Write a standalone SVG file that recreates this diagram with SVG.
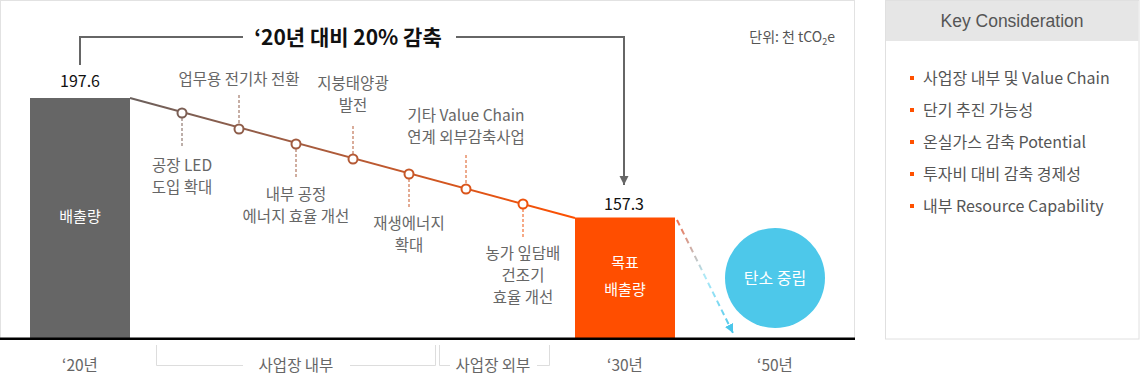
<svg xmlns="http://www.w3.org/2000/svg" width="1140" height="374" viewBox="0 0 1140 374">
<defs>
<style>
text{font-family:"Noto Sans CJK KR","Noto Sans",sans-serif;}
.lbl{font-size:15.5px;fill:#666;text-anchor:middle;}
.num{font-size:16px;fill:#111;text-anchor:middle;}
.axis{font-size:15.5px;fill:#666;text-anchor:middle;}
.wt{font-size:15px;fill:#fff;text-anchor:middle;}
.li{font-size:16px;fill:#555;}
.dash{fill:none;stroke:url(#lg);stroke-width:1;stroke-dasharray:3 2;}
.pt{fill:#fff;stroke:url(#lg);stroke-width:2;}
.br{fill:none;stroke:#ddd;stroke-width:1;}
.bul{fill:#ff5000;}
</style>
<linearGradient id="lg" gradientUnits="userSpaceOnUse" x1="130" y1="0" x2="575" y2="0">
<stop offset="0" stop-color="#6a605d"/>
<stop offset="0.5" stop-color="#b45a36"/>
<stop offset="1" stop-color="#ff5000"/>
</linearGradient>
<linearGradient id="ag" gradientUnits="userSpaceOnUse" x1="677" y1="220" x2="733" y2="333">
<stop offset="0" stop-color="#f07050"/>
<stop offset="0.5" stop-color="#aeeaf8"/>
<stop offset="1" stop-color="#4ac6ea"/>
</linearGradient>
<marker id="ahg" markerWidth="10" markerHeight="10" refX="9" refY="5" orient="auto" markerUnits="userSpaceOnUse">
<path d="M0,0.5 L9,5 L0,9.5 Z" fill="#666"/>
</marker>
<marker id="ahc" markerWidth="10" markerHeight="10" refX="9" refY="5" orient="auto" markerUnits="userSpaceOnUse">
<path d="M0,0.5 L9,5 L0,9.5 Z" fill="#4ac6ea"/>
</marker>
</defs>
<rect width="1140" height="374" fill="#fff"/>
<!-- main frame -->
<rect x="0.5" y="0.5" width="854" height="338" fill="none" stroke="#e2e2e2"/>

<g id="keypanel">
<rect x="885.5" y="0.5" width="253.5" height="338.5" fill="#fff" stroke="#e0e0e0"/>
<rect x="886" y="1" width="252.5" height="40" fill="#e6e6e6"/>
<text x="1012" y="27" style="font-family:'Liberation Sans',Arial,sans-serif;font-size:17.5px;fill:#555;text-anchor:middle">Key Consideration</text>
<rect class="bul" x="910" y="76" width="4" height="4"/>
<text class="li" x="923" y="84">사업장 내부 및 Value Chain</text>
<rect class="bul" x="910" y="108" width="4" height="4"/>
<text class="li" x="923" y="116">단기 추진 가능성</text>
<rect class="bul" x="910" y="140" width="4" height="4"/>
<text class="li" x="923" y="148">온실가스 감축 Potential</text>
<rect class="bul" x="910" y="172" width="4" height="4"/>
<text class="li" x="923" y="180">투자비 대비 감축 경제성</text>
<rect class="bul" x="910" y="204" width="4" height="4"/>
<text class="li" x="923" y="212">내부 Resource Capability</text>
</g>

<g id="unit">
<text x="835" y="42" style="font-size:14px;fill:#555;text-anchor:end">단위: 천 tCO<tspan style="font-size:9px" dy="3">2</tspan><tspan dy="-3">e</tspan></text>
</g>

<g id="bar2020">
<rect x="30" y="98" width="100" height="240" fill="#666"/>
<text class="wt" x="80" y="222">배출량</text>
<text class="num" x="80" y="87">197.6</text>
</g>

<g id="bar2030">
<rect x="575" y="217.5" width="100" height="120.5" fill="#ff4e00"/>
<text class="wt" x="625" y="268">목표</text>
<text class="wt" x="625" y="295">배출량</text>
<text class="num" x="624" y="210">157.3</text>
</g>

<g id="neutral">
<circle cx="775" cy="278" r="50" fill="#4dc8ea"/>
<text class="wt" x="775" y="284" style="font-size:16px">탄소 중립</text>
</g>

<g id="title">
<text x="348" y="45" style="font-size:21px;font-weight:bold;fill:#111;text-anchor:middle">‘20년 대비 20% 감축</text>
</g>

<g id="connectors">
<polyline points="80,65 80,37 243,37" fill="none" stroke="#666" stroke-width="2"/>
<polyline points="456,37 624,37 624,185" fill="none" stroke="#666" stroke-width="2" marker-end="url(#ahg)"/>
<line x1="130" y1="98" x2="575" y2="218" stroke="url(#lg)" stroke-width="2"/>
<line x1="677" y1="220" x2="733" y2="333" stroke="url(#ag)" stroke-width="2" stroke-dasharray="6 4" marker-end="url(#ahc)"/>
<line class="dash" x1="182" y1="118" x2="182" y2="146"/>
<line class="dash" x1="239" y1="95" x2="239" y2="124"/>
<line class="dash" x1="296" y1="149" x2="296" y2="177"/>
<line class="dash" x1="353" y1="126" x2="353" y2="154"/>
<line class="dash" x1="409" y1="179" x2="409" y2="207"/>
<line class="dash" x1="466" y1="155" x2="466" y2="184"/>
<line class="dash" x1="523" y1="209" x2="523" y2="237"/>
</g>

<g id="points">
<circle class="pt" cx="182" cy="113" r="4.5"/>
<circle class="pt" cx="239" cy="129" r="4.5"/>
<circle class="pt" cx="296" cy="144" r="4.5"/>
<circle class="pt" cx="353" cy="159" r="4.5"/>
<circle class="pt" cx="409" cy="174" r="4.5"/>
<circle class="pt" cx="466" cy="189" r="4.5"/>
<circle class="pt" cx="523" cy="204" r="4.5"/>
</g>

<g id="labels">
<text class="lbl" x="182" y="171">공장 LED</text>
<text class="lbl" x="182" y="193">도입 확대</text>
<text class="lbl" x="239" y="85">업무용 전기차 전환</text>
<text class="lbl" x="296" y="200">내부 공정</text>
<text class="lbl" x="296" y="222">에너지 효율 개선</text>
<text class="lbl" x="353" y="89">지붕태양광</text>
<text class="lbl" x="353" y="111">발전</text>
<text class="lbl" x="409" y="229">재생에너지</text>
<text class="lbl" x="409" y="251">확대</text>
<text class="lbl" x="466" y="121">기타 Value Chain</text>
<text class="lbl" x="466" y="143">연계 외부감축사업</text>
<text class="lbl" x="523" y="259">농가 잎담배</text>
<text class="lbl" x="523" y="281">건조기</text>
<text class="lbl" x="523" y="303">효율 개선</text>
</g>

<g id="axis">
<rect x="0" y="337.5" width="855" height="2.5" fill="#000"/>
<text class="axis" x="80" y="371">‘20년</text>
<text class="axis" x="625" y="371">‘30년</text>
<text class="axis" x="775" y="371">‘50년</text>
<polyline class="br" points="243,365.5 156.5,365.5 156.5,345"/>
<polyline class="br" points="350,365.5 435.5,365.5 435.5,345"/>
<text class="axis" x="296" y="371">사업장 내부</text>
<polyline class="br" points="450,365.5 439.5,365.5 439.5,345"/>
<polyline class="br" points="537,365.5 549.5,365.5 549.5,345"/>
<text class="axis" x="493" y="371">사업장 외부</text>
</g>
</svg>
